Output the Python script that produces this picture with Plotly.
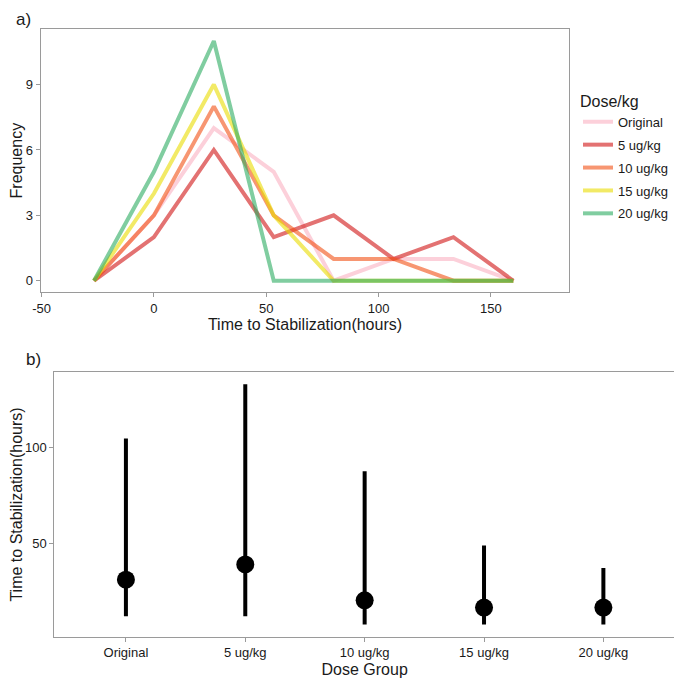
import plotly.graph_objects as go

# ---- Panel a data: frequency polygon ----
bin_centers = [-26.67, 0, 26.67, 53.33, 80, 106.67, 133.33, 160]
series_names = ["Original", "5 ug/kg", "10 ug/kg", "15 ug/kg", "20 ug/kg"]
freq_original = [0, 3, 7, 5, 0, 1, 1, 0]
freq_5 = [0, 2, 6, 2, 3, 1, 2, 0]
freq_10 = [0, 3, 8, 3, 1, 1, 0, 0]
freq_15 = [0, 4, 9, 3, 0, 0, 0, 0]
freq_20 = [0, 5, 11, 0, 0, 0, 0, 0]
x_tick_vals = [-50, 0, 50, 100, 150]
x_tick_text = ["-50", "0", "50", "100", "150"]
series_colors = [
    "rgba(250,177,193,0.6)",
    "rgba(208,20,20,0.6)",
    "rgba(242,80,20,0.6)",
    "rgba(233,220,0,0.6)",
    "rgba(43,172,97,0.6)",
]

# ---- Panel b data: median and range ----
dose_groups = ["Original", "5 ug/kg", "10 ug/kg", "15 ug/kg", "20 ug/kg"]
center_vals = [31.4, 39.3, 20.7, 16.9, 16.9]
upper_vals = [104.6, 132.8, 87.6, 49.1, 37.4]
lower_vals = [12.4, 12.4, 8.1, 8.1, 8.1]

FONT = "Liberation Sans, Arial, sans-serif"
TXT = "#1a1a1a"
AX = "#9a9a9a"

# page has an 8px body margin; size the figure to fill the window exactly
OFF = 8
W, H = 682 - OFF, 683 - OFF


def xp(px):
    return (px - OFF) / W


def yp(py):
    return 1 - (py - OFF) / H


fig = go.Figure()

for name, vals, col in zip(series_names,
                           [freq_original, freq_5, freq_10, freq_15, freq_20],
                           series_colors):
    fig.add_trace(go.Scatter(
        x=bin_centers, y=vals, mode="lines", name=name,
        line=dict(color=col, width=4), xaxis="x", yaxis="y",
        legendgroup=name,
    ))

fig.add_trace(go.Scatter(
    x=dose_groups, y=center_vals, mode="markers",
    marker=dict(color="black", size=18),
    error_y=dict(type="data", symmetric=False,
                 array=[u - c for u, c in zip(upper_vals, center_vals)],
                 arrayminus=[c - l for c, l in zip(center_vals, lower_vals)],
                 thickness=4, width=0, color="black"),
    xaxis="x2", yaxis="y2", showlegend=False,
))

axis_common = dict(
    showline=True, mirror=True, linecolor=AX, linewidth=1,
    ticks="outside", ticklen=4, tickcolor=AX, tickwidth=1,
    showgrid=False, zeroline=False, automargin=False,
    tickfont=dict(family=FONT, size=13, color=TXT),
)

fig.update_layout(
    width=W, height=H,
    margin=dict(l=0, r=0, t=0, b=0, autoexpand=False),
    paper_bgcolor="white", plot_bgcolor="white",
    font=dict(family=FONT, color=TXT),
    xaxis=dict(domain=[xp(40.7), xp(569.3)], range=[-50.4, 184.9],
               tickvals=x_tick_vals, ticktext=x_tick_text, anchor="y",
               title=dict(text="Time to Stabilization(hours)",
                          font=dict(family=FONT, size=16, color=TXT), standoff=3),
               **axis_common),
    yaxis=dict(domain=[yp(292.3), yp(29.0)], range=[-0.53, 11.55],
               tickvals=[0, 3, 6, 9], anchor="x",
               title=dict(text="Frequency",
                          font=dict(family=FONT, size=16, color=TXT), standoff=0),
               **axis_common),
    xaxis2=dict(domain=[xp(54.3), xp(675)], range=[-0.6, 4.6],
                type="category", anchor="y2",
                title=dict(text="Dose Group",
                           font=dict(family=FONT, size=16, color=TXT), standoff=4),
                **axis_common),
    yaxis2=dict(domain=[yp(636.7), yp(372.3)], range=[1.8, 139],
                tickvals=[50, 100], anchor="x2",
                title=dict(text="Time to Stabilization(hours)",
                           font=dict(family=FONT, size=16, color=TXT), standoff=5),
                **axis_common),
    legend=dict(
        x=xp(578), y=yp(86), xanchor="left", yanchor="top",
        title=dict(text="Dose/kg", font=dict(family=FONT, size=16, color=TXT)),
        font=dict(family=FONT, size=13, color=TXT),
        tracegroupgap=3, itemwidth=30, bgcolor="rgba(0,0,0,0)",
    ),
    annotations=[
        dict(text="a)", x=xp(14), y=1.0, xref="paper", yref="paper",
             xanchor="left", yanchor="top", showarrow=False,
             font=dict(family=FONT, size=17, color=TXT)),
        dict(text="b)", x=xp(24), y=yp(359), xref="paper", yref="paper",
             xanchor="left", yanchor="middle", showarrow=False,
             font=dict(family=FONT, size=17, color=TXT)),
    ],
)

fig.write_html("out.html")
